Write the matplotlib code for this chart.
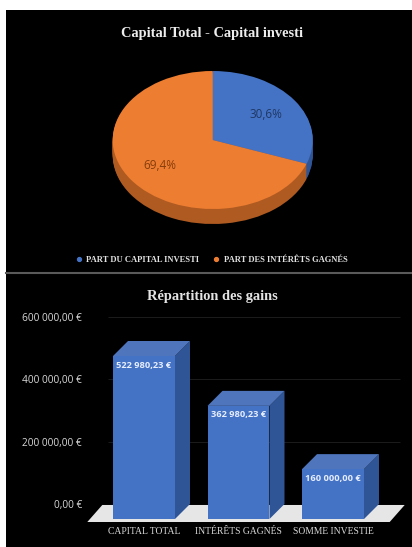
import matplotlib
matplotlib.use("Agg")
import matplotlib.pyplot as plt
from matplotlib.lines import Line2D
from matplotlib.patches import Polygon

# data
pie_labels = ["PART DU CAPITAL INVESTI", "PART DES INTÉRÊTS GAGNÉS"]
pie_values = [30.6, 69.4]
bar_labels = ["CAPITAL TOTAL", "INTÉRÊTS GAGNÉS", "SOMME INVESTIE"]
bar_values = [522980.23, 362980.23, 160000.00]
bar_texts = ["522 980,23 €", "362 980,23 €", "160 000,00 €"]
y_ticks = [0, 200000, 400000, 600000]
y_tick_labels = ["0,00 €", "200 000,00 €", "400 000,00 €", "600 000,00 €"]

W, H = 412, 547
BLUE, ORANGE = "#4472C4", "#ED7D31"
BLUE_DARK, ORANGE_DARK = "#2F5597", "#AE5A21"
BLUE_TOP = "#4F75BC"
TEXT = "#D9D9D9"


def px_axes(left, top, right, bottom):
    # axes placed with pixel edges, y counted from the top of the image
    return fig.add_axes([left / W, 1 - bottom / H, (right - left) / W, (bottom - top) / H])


fig = plt.figure(figsize=(W / 100, H / 100), dpi=100, facecolor="white")

# --- pie panel ---
ax1 = px_axes(6, 10, 412, 272)
for i in range(15, 0, -1):
    ax1.pie(pie_values, colors=[BLUE_DARK, ORANGE_DARK], startangle=90, counterclock=False,
            center=(0, -i / 69))
_, _, pct = ax1.pie(pie_values, colors=[BLUE, ORANGE], startangle=90, counterclock=False,
                    autopct=lambda p: f"{p:.1f}%".replace(".", ","), pctdistance=0.65,
                    textprops={"fontsize": 8.5, "family": "Open Sans"})
pct[0].set_color("#1F3864")
pct[1].set_color("#843C0C")
ax1.set_aspect("auto")
ax1.set_xlim(-2.067, 1.993)
ax1.set_ylim(-1.913, 1.884)
ax1.set_frame_on(True)
ax1.set_facecolor("black")
for s in ax1.spines.values():
    s.set_visible(False)
ax1.set_title("Capital Total - Capital investi", family="Liberation Serif", weight="bold",
              fontsize=10.4, color="#EDEDED", x=0.5086, y=1, pad=-19.5)
handles = [Line2D([], [], ls="", marker="o", ms=2.8, color=c) for c in (BLUE, ORANGE)]
ax1.legend(handles, pie_labels, loc="center", bbox_to_anchor=(0.5, 0.0475), ncol=2, frameon=False,
           prop={"family": "Liberation Serif", "weight": "bold", "size": 6.1}, labelcolor="#E4E4E4",
           columnspacing=1.0, handletextpad=-0.1)

# --- bar panel: this axes is the back wall, with ticks and gridlines ---
ax2 = px_axes(6, 273, 412, 547)
ax2.set_facecolor("black")
ax2.set_xlim(0, 1)
ax2.set_ylim(-137968, 741176)
ax2.set_xticks([])
ax2.set_yticks(y_ticks, y_tick_labels, family="Open Sans", fontsize=7.3, color=TEXT)
ax2.tick_params(axis="y", length=0, pad=-54.7)
ax2.hlines(y_ticks[1:], 0.25, 0.97, color="#1C1C1C", lw=0.7)
for s in ax2.spines.values():
    s.set_visible(False)
ax2.spines["top"].set_visible(True)
ax2.spines["top"].set_color("#5A5A5A")
ax2.spines["top"].set_linewidth(1.5)
ax2.set_title("Répartition des gains", family="Liberation Serif", weight="bold",
              fontsize=10.4, color="#E4E4E4", x=0.5086, y=1, pad=-19.5)

# front plane, shifted down and left from the wall by the depth of the bars
ax3 = px_axes(87.3, 300, 389.7, 522)
ax3.patch.set_visible(False)
x_pos = list(range(len(bar_labels)))
ax3.set_xlim(-0.6, 2.6)
ax3.set_ylim(-9626, 702674)
depth_x = 15 / 94.5
depth_y = 15 * 600000 / 187
bar_w = 0.656

floor_front = -9626
floor_back = 45000
ax3.add_patch(Polygon([(-0.6, floor_front), (2.6, floor_front),
                       (2.6 + depth_x, floor_back), (-0.6 + depth_x, floor_back)],
                      closed=True, color="#E7E6E6", clip_on=False, lw=0, zorder=1))

bars = ax3.bar(x_pos, bar_values, width=bar_w, color=BLUE, zorder=3)
for x, v, t in zip(x_pos, bar_values, bar_texts):
    l, r = x - bar_w / 2, x + bar_w / 2
    ax3.add_patch(Polygon([(r, 0), (r + depth_x, depth_y), (r + depth_x, v + depth_y), (r, v)],
                          closed=True, color=BLUE_DARK, lw=0, zorder=2, clip_on=False))
    ax3.add_patch(Polygon([(l, v), (r, v), (r + depth_x, v + depth_y), (l + depth_x, v + depth_y)],
                          closed=True, color=BLUE_TOP, lw=0, zorder=2, clip_on=False))
    ax3.annotate(t, (x, v), xytext=(0, -9), textcoords="offset pixels", ha="center", va="center",
                 family="Open Sans", weight="bold", fontsize=6.7, color="#E6EEFF", zorder=4)

ax3.set_xticks(x_pos, bar_labels, family="Liberation Serif", fontsize=6.9, color=TEXT)
ax3.set_yticks([])
ax3.tick_params(axis="x", length=0, pad=3.5)
for s in ax3.spines.values():
    s.set_visible(False)

fig.savefig("out.png", dpi=100, facecolor=fig.get_facecolor())
